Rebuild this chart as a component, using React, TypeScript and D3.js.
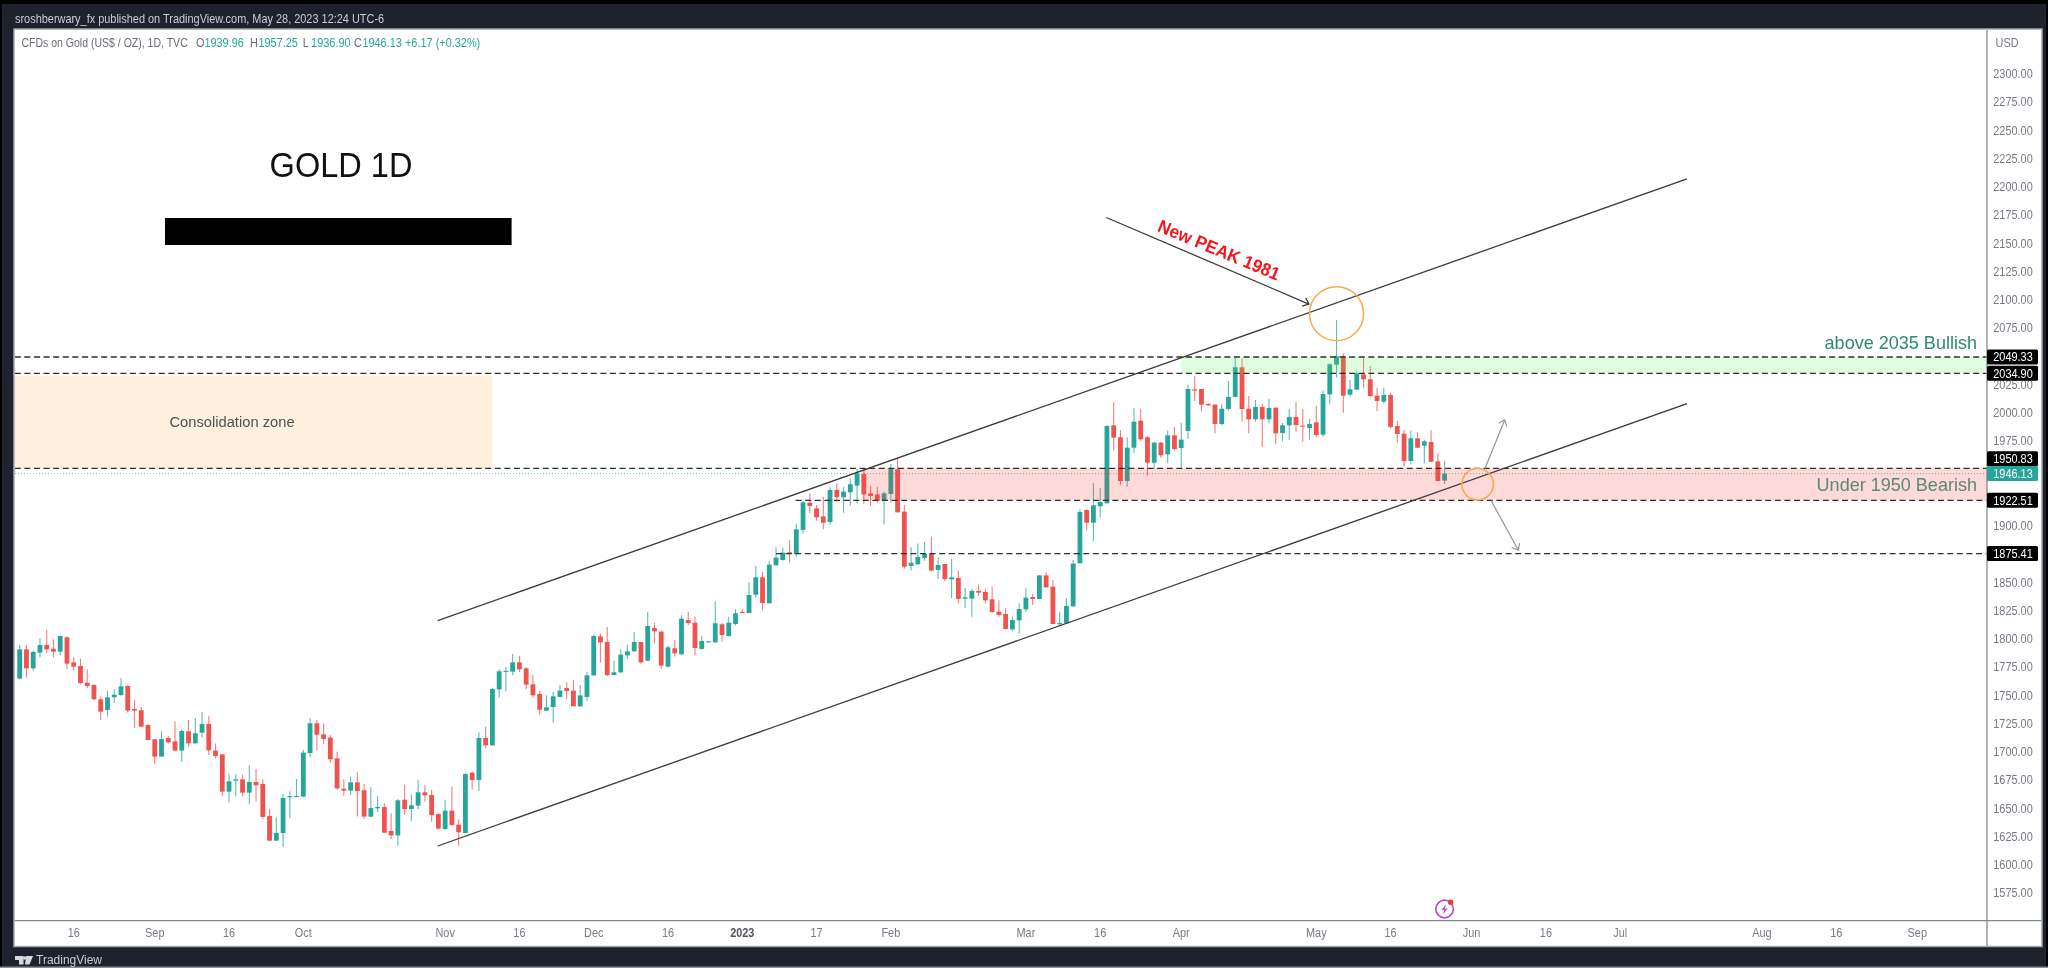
import React, { useRef, useEffect } from 'react';
import * as d3 from 'd3';

const opens = [
  1764.7,1790.6,1773.8,1787.7,1794.5,1791.2,1788.6,1801.3,1779.1,1775.9,
  1761.1,1759.1,1746.4,1737,1748.2,1750.2,1758.2,1737.8,1736.7,1723.7,
  1711,1695.7,1712.2,1709.2,1701,1718.1,1707.4,1716.9,1724.6,1701,
  1697.7,1664.7,1674.4,1675.6,1663.8,1673.2,1671.5,1643.1,1621.3,1628.1,
  1659.7,1660.3,1660.3,1698.9,1725.2,1715.4,1712.5,1694.2,1667.3,1665.6,
  1672.9,1665.9,1642.6,1649.9,1651.1,1629.9,1626,1657.6,1649.3,1652.3,
  1664.1,1661.7,1644.9,1631.6,1647.9,1635.5,1628.1,1681.5,1675,1712.2,
  1705.7,1755.2,1770.6,1770.9,1779.1,1773.8,1759.7,1751.1,1736.4,1739.6,
  1748.5,1756.4,1754.1,1740.2,1748.5,1767.6,1802.1,1797.1,1767.9,1770.3,
  1785.3,1788.9,1797.1,1780.6,1809.5,1806.3,1775.3,1791.5,1786.2,1816.6,
  1814.2,1790.9,1796.8,1796.8,1812.8,1802.4,1813.1,1823.7,1822.8,1839,
  1854.4,1831.4,1865,1869.7,1876.5,1875,1896.3,1920.4,1915.4,1908.3,
  1903.3,1931.7,1925.2,1929.6,1935.5,1945.8,1928.7,1927.8,1922.5,1928.1,
  1949.9,1912.5,1864.4,1865.9,1871.5,1875.3,1860.9,1866.2,1852.6,1853.8,
  1835.5,1835.5,1842.3,1841.4,1834.9,1824,1821.9,1808.3,1816.3,1826,
  1837,1835.2,1856.1,1846.1,1812.8,1813.7,1828.7,1866.8,1913.9,1902.7,
  1917.2,1919.9,1988.9,1978.3,1939.6,1969.1,1993,1978.3,1955.8,1973.5,
  1963.2,1980,1968.8,1983.9,2020.7,2021,2007.8,2007.2,1990,2003.3,
  2014,2040.2,2003.6,1994.2,2005.1,1994.2,2004.5,1982.1,1988.9,1996.3,
  1988.6,1986.5,1991.5,1980.6,2016.3,2042.6,2049.9,2016,2020.5,2034,
  2029.6,2015.1,2009.8,2015.7,1988.3,1981.5,1957.3,1977.4,1970.9,1974.1,
  1957,1939.96,
];
const highs = [
  1794.5,1794.5,1789.5,1800.4,1807.7,1799.5,1803,1801.9,1783.6,1782.4,
  1773,1759.7,1748.8,1754,1755.2,1765,1758.8,1745.8,1739.6,1724.6,
  1711.6,1718.1,1714,1726.9,1719.8,1728.1,1729.9,1735.2,1731.9,1707.4,
  1698,1680.6,1680,1679.7,1688,1684.7,1675.6,1649.3,1642,1662.6,
  1665,1675.9,1701.6,1729.6,1728.1,1725.2,1714.8,1700.1,1675.6,1677.9,
  1681.8,1671.5,1668.5,1660.8,1654.4,1645.5,1657.9,1670.6,1662,1674.7,
  1670.3,1666.2,1645.5,1657,1669.1,1640.2,1681.5,1682.4,1717.2,1722.2,
  1756.7,1773,1775,1786.5,1785,1774.7,1767.9,1753.5,1749.9,1753.2,
  1758.8,1761.4,1763.5,1759.1,1770.3,1803.6,1804.5,1810.4,1780.6,1790.6,
  1794.8,1806,1797.1,1824,1814.2,1807.2,1793.9,1798.6,1820.7,1824,
  1819.8,1802.7,1798,1833.1,1813.9,1819.5,1826,1826.3,1849.9,1864.7,
  1859.1,1868.8,1880.9,1880.6,1887.1,1901.6,1921.9,1928.7,1918.4,1925.7,
  1934,1937.6,1934.6,1942,1950.2,1949.9,1935.2,1934.6,1930.2,1954.7,
  1960.6,1918.4,1880.9,1884.4,1885.9,1890.4,1872.1,1866.2,1870.6,1860.3,
  1844.9,1843.7,1847.9,1844,1846.1,1834,1827,1819.5,1831.4,1844.6,
  1839.6,1856.4,1858.8,1852,1824,1836.1,1869.7,1914.5,1914.5,1937.6,
  1933.4,1988.9,2009.2,1984.8,1978.3,2003.9,2003,1979.7,1974.4,1974.1,
  1984.2,1987.1,1991.2,2024.9,2032.2,2021.3,2008.3,2007.2,2007.8,2028.1,
  2049,2047.9,2014.8,2011.3,2007.5,2012.5,2004.8,1991,2003.6,2009.5,
  2003.6,1994.5,2006,2019.6,2043.7,2082.1,2052.6,2029,2036.4,2048.2,
  2041.4,2022.2,2022.2,2017.8,1993,1984.8,1984.2,1982.7,1975.9,1984.5,
  1964.1,1957.25,
];
const lows = [
  1764.1,1765.6,1771.8,1783.6,1787.7,1783.6,1785.6,1773.2,1771.8,1760,
  1756.1,1745.8,1728.1,1731.1,1742.9,1749.6,1734.6,1721,1721.6,1709.8,
  1689.2,1695.4,1707.4,1700.4,1691.2,1704.5,1707.2,1712.8,1697.1,1694.2,
  1660.3,1654.9,1660.3,1660.3,1653.8,1656.1,1640.5,1621.3,1621.3,1615.4,
  1641.4,1659.7,1659.7,1695.1,1701,1706.9,1690.3,1666.2,1661.1,1662,
  1642.6,1640.8,1642,1646.7,1627.8,1622.8,1616.9,1644.3,1638.4,1649.3,
  1655.8,1638.1,1631.3,1631,1634.3,1616.9,1627.8,1666.7,1665.3,1703,
  1705.1,1747.9,1753.5,1767.6,1770.6,1755.2,1747.9,1732.8,1736.1,1725.7,
  1748.2,1746.4,1740.2,1739.9,1745.2,1767.3,1778.8,1766.5,1767.6,1769.4,
  1782.1,1788.6,1778,1780.3,1795.9,1773.5,1774.7,1784.2,1785.6,1812.2,
  1785.3,1790.6,1796.5,1796.5,1797.4,1802.1,1811.9,1822.5,1822.5,1836.7,
  1825.2,1831.1,1864.7,1869.1,1867.3,1872.6,1893,1911,1904.5,1896.8,
  1901,1920.7,1911.6,1917.8,1919.9,1919.3,1917.5,1920.4,1901,1920.4,
  1911.6,1862,1860.3,1865.3,1869.1,1859.7,1852.9,1850.8,1836.1,1831.1,
  1827.5,1819.5,1837.8,1831.1,1823.1,1819.5,1808.3,1807.2,1804.8,1824,
  1829.9,1834.9,1845.2,1812.8,1811,1813.1,1828.4,1866.5,1895.7,1886.5,
  1907.5,1919.6,1966.5,1936.1,1934.6,1964.7,1975.3,1944.3,1950.2,1960,
  1955.5,1966.5,1950.5,1976.8,2010.4,2001.6,2006,1981.8,1989.2,2001.9,
  2013.7,1992.1,1981.8,1992.1,1969.7,1990.6,1972,1974.7,1975.9,1983.3,
  1974.4,1976.2,1978.3,1978.8,2007.8,2031.1,2000.1,2014.3,2020.2,2021.6,
  2013.7,2001.6,2008.3,1986.2,1973.5,1952.3,1954.4,1968.5,1955.2,1956.4,
  1939.3,1936.9,
];
const closes = [
  1790.6,1773.8,1788.3,1794.5,1790.6,1788.6,1802.4,1778,1775.3,1760.8,
  1758.2,1746.4,1735.5,1748.2,1750.5,1757.9,1736.4,1736.4,1722.2,1710.4,
  1695.7,1711.3,1708.3,1701,1718.4,1707.4,1716.3,1724.6,1701.3,1696.2,
  1664.7,1673.8,1675.6,1663.8,1673.2,1670.3,1642.3,1621.3,1628.1,1659.1,
  1660.8,1660.8,1699.2,1725.2,1715.1,1711.3,1693.3,1667.6,1665.6,1672.9,
  1665.3,1642.6,1650.2,1651.1,1628.4,1626,1657,1649.3,1652.6,1664.1,
  1661.4,1644,1632,1647.9,1635.2,1628.7,1680.3,1675,1712.2,1705.7,
  1755.5,1771.2,1771.5,1779.1,1772.9,1759.4,1749.9,1737.2,1739.3,1749,
  1754.1,1753.8,1740.2,1749.9,1767.6,1802.4,1796.8,1767.9,1770.3,1785.9,
  1788.9,1797.1,1779.1,1811.3,1806.6,1776.2,1792.4,1787.1,1817.8,1813.9,
  1791.8,1798,1797.7,1813.7,1803.3,1814.2,1822.5,1822.8,1838.7,1854.4,
  1831.6,1865.6,1871.8,1876.2,1875,1896.8,1920.7,1917.5,1907.5,1902.7,
  1931.7,1925.2,1930.2,1936.7,1946.4,1927.8,1926.3,1922.2,1928.7,1950.2,
  1911.9,1863.8,1867.3,1872.4,1875,1860.3,1865.3,1852.9,1854.4,1835.2,
  1836.7,1842.3,1840.8,1834,1823.7,1821,1808.6,1816.6,1826.3,1836.4,
  1835.2,1856.1,1845.5,1813.1,1813.9,1829,1866.5,1912.2,1902.7,1918.1,
  1921,1988.3,1978,1939.6,1969.1,1992.1,1976.5,1955.8,1973.5,1962.3,
  1980,1967.9,1976.2,2021,2019.6,2007.2,2006.6,1990,2003.6,2014,
  2040.2,2003.3,1994.2,2005.1,1994.2,2004.2,1981.8,1988.9,1996.3,1989.2,
  1987.7,1990,1980.3,2016.6,2042.9,2049.9,2015.1,2020.7,2034.9,2029.6,
  2014.8,2010.4,2015.7,1987.4,1981.2,1957.3,1977.4,1969.1,1974.7,1956.7,
  1939.6,1946.13,
];

const priceTicks = d3.range(1575, 2301, 25);
const timeTicks = [
  { bar: 8, label: '16' }, { bar: 20, label: 'Sep' }, { bar: 31, label: '16' }, { bar: 42, label: 'Oct' },
  { bar: 63, label: 'Nov' }, { bar: 74, label: '16' }, { bar: 85, label: 'Dec' }, { bar: 96, label: '16' },
  { bar: 107, label: '2023' }, { bar: 118, label: '17' }, { bar: 129, label: 'Feb' }, { bar: 149, label: 'Mar' },
  { bar: 160, label: '16' }, { bar: 172, label: 'Apr' }, { bar: 192, label: 'May' }, { bar: 203, label: '16' },
  { bar: 215, label: 'Jun' }, { bar: 226, label: '16' }, { bar: 237, label: 'Jul' }, { bar: 258, label: 'Aug' },
  { bar: 269, label: '16' }, { bar: 281, label: 'Sep' },
];

// drawings on the chart, as [bar index, price]
const levels = [
  { price: 2049.33, from: -5 }, { price: 2034.9, from: -5 }, { price: 1950.83, from: -5 },
  { price: 1922.51, from: 114.9 }, { price: 1875.41, from: 112 },
];
// shift: the tag is pushed up when it would sit on the last price tag
const priceTags = [
  { price: 2049.33, shift: 0 }, { price: 2034.9, shift: 0 }, { price: 1950.83, shift: -9.5 },
  { price: 1922.51, shift: 0 }, { price: 1875.41, shift: 0 },
];
const lastPrice = 1946.13;
const trendLines = [
  [[61.9, 1816], [246.9, 2206.9]],
  [[61.9, 1616.6], [246.9, 2008.1]],
];
const peakArrow = [[160.9, 2172.8], [190.9, 2096.2]];
const grayArrows = [
  [[217, 1950.8], [219.9, 1993.6]],
  [[217.9, 1922.2], [221.9, 1878.5]],
];
const circles = [
  { bar: 195, price: 2087.7, bars: 4 },
  { bar: 215.9, price: 1936.7, bars: 2.33 },
];

const W = 2048;
const H = 968;
const pane = { left: 15, right: 1987, top: 30, bottom: 920.7 };
const GREEN = '#26a69a';
const RED = '#ef5350';
const FONT = '"Liberation Sans", Arial, sans-serif';

const App = () => {
  const svgRef = useRef(null);

  useEffect(() => {
    const svg = d3.select(svgRef.current);
    svg.selectAll('*').remove();

    const x = d3.scaleLinear().domain([0, 281]).range([19.7, 19.7 + 6.753 * 281]);
    const y = d3.scaleLinear().domain([1575, 2300]).range([893, 73.75]);

    // 글자는 가로로 눌린 모양
    const label = (g, txt, px, py, size, fill, anchor = 'start', sx = 0.84, rot = 0, weight = 'normal') =>
      g.append('text')
        .attr('transform', `translate(${px},${py}) rotate(${rot}) scale(${sx},1)`)
        .attr('text-anchor', anchor)
        .attr('dominant-baseline', 'central')
        .attr('font-family', FONT)
        .attr('font-size', size)
        .attr('font-weight', weight)
        .attr('fill', fill)
        .text(txt);

    // window chrome
    svg.append('rect').attr('width', W).attr('height', H).attr('fill', '#1e222d');
    svg.append('rect').attr('width', W).attr('height', 4).attr('fill', '#000');
    svg.append('rect').attr('width', 2).attr('height', H).attr('fill', '#000');
    svg.append('rect').attr('x', 2046).attr('width', 2).attr('height', H).attr('fill', '#000');
    svg.append('rect').attr('y', 966.5).attr('width', W).attr('height', 1.5).attr('fill', '#8a8e97');
    svg.append('rect').attr('x', 14).attr('y', 29).attr('width', 2028).attr('height', 917.5)
      .attr('fill', '#fff').attr('stroke', '#a4a7ae').attr('stroke-width', 1.5);

    svg.append('clipPath').attr('id', 'pane').append('rect')
      .attr('x', pane.left).attr('y', pane.top)
      .attr('width', pane.right - pane.left).attr('height', pane.bottom - pane.top);
    const chart = svg.append('g').attr('clip-path', 'url(#pane)');

    // consolidation box
    chart.append('rect')
      .attr('x', x(-5)).attr('width', x(70) - x(-5))
      .attr('y', y(2032.5)).attr('height', y(1950.3) - y(2032.5))
      .attr('fill', '#fff0dd');
    label(chart, 'Consolidation zone', 232, 421, 15.5, '#4b5350', 'middle', 0.95);

    // last price line
    chart.append('line')
      .attr('x1', pane.left).attr('x2', pane.right)
      .attr('y1', y(lastPrice)).attr('y2', y(lastPrice))
      .attr('stroke', GREEN).attr('stroke-opacity', 0.7).attr('stroke-dasharray', '1,2');

    // candles
    const bars = d3.range(opens.length).map(i => ({
      i, o: opens[i], h: highs[i], l: lows[i], c: closes[i],
    }));
    const color = d => (d.c >= d.o ? GREEN : RED);
    chart.selectAll('.wick').data(bars).enter().append('line')
      .attr('class', 'wick')
      .attr('x1', d => x(d.i)).attr('x2', d => x(d.i))
      .attr('y1', d => y(d.h)).attr('y2', d => y(d.l))
      .attr('stroke', color).attr('stroke-width', 1.1).attr('stroke-opacity', 0.75);
    chart.selectAll('.body').data(bars).enter().append('rect')
      .attr('class', 'body')
      .attr('x', d => x(d.i) - 2.4).attr('width', 4.8)
      .attr('y', d => y(Math.max(d.o, d.c)))
      .attr('height', d => Math.max(1, Math.abs(y(d.o) - y(d.c))))
      .attr('fill', color);

    // zones on top of the candles
    chart.append('rect')
      .attr('x', x(124.7)).attr('width', pane.right - x(124.7))
      .attr('y', y(1950.83)).attr('height', y(1922.51) - y(1950.83))
      .attr('fill', '#f44336').attr('fill-opacity', 0.2);
    chart.append('rect')
      .attr('x', x(172)).attr('width', pane.right - x(172))
      .attr('y', y(2049.33)).attr('height', y(2034.9) - y(2049.33))
      .attr('fill', '#4cf050').attr('fill-opacity', 0.18);

    // dashed levels
    chart.selectAll('.level').data(levels).enter().append('line')
      .attr('class', 'level')
      .attr('x1', d => x(d.from)).attr('x2', pane.right)
      .attr('y1', d => y(d.price)).attr('y2', d => y(d.price))
      .attr('stroke', '#2f2f2f').attr('stroke-width', 1.3).attr('stroke-dasharray', '6,3.6');

    const line = d3.line().x(d => x(d[0])).y(d => y(d[1]));
    chart.selectAll('.trend').data(trendLines).enter().append('path')
      .attr('class', 'trend')
      .attr('d', line).attr('fill', 'none').attr('stroke', '#3a3a3a').attr('stroke-width', 1.3);

    // open arrow heads
    const arrow = (pts, stroke) => {
      chart.append('path').attr('d', line(pts)).attr('fill', 'none')
        .attr('stroke', stroke).attr('stroke-width', 1.3);
      const [x0, y0] = [x(pts[0][0]), y(pts[0][1])];
      const [x1, y1] = [x(pts[1][0]), y(pts[1][1])];
      const a = Math.atan2(y1 - y0, x1 - x0);
      const head = [a - 0.7, a + 0.7].map(t => [x1 - 7 * Math.cos(t), y1 - 7 * Math.sin(t)]);
      chart.append('path')
        .attr('d', `M${head[0]}L${x1},${y1}L${head[1]}`)
        .attr('fill', 'none').attr('stroke', stroke).attr('stroke-width', 1.3);
    };
    arrow(peakArrow, '#3a3a3a');
    grayArrows.forEach(a => arrow(a, '#9a9a9a'));

    chart.selectAll('.ring').data(circles).enter().append('circle')
      .attr('class', 'ring')
      .attr('cx', d => x(d.bar)).attr('cy', d => y(d.price))
      .attr('r', d => x(d.bars) - x(0))
      .attr('fill', 'none').attr('stroke', '#f9a94c').attr('stroke-width', 1.5);

    // chart notes
    label(chart, 'New PEAK 1981', 1219, 250, 18, '#f5141c', 'middle', 0.95, 22.5, 'bold');
    label(chart, 'above 2035 Bullish', 1977, 342.7, 19, '#2e8b72', 'end', 0.95);
    label(chart, 'Under 1950 Bearish', 1977, 484, 19, '#5a8a72', 'end', 0.95);
    label(chart, 'GOLD 1D', 341, 165, 35, '#111', 'middle', 0.93);
    chart.append('rect').attr('x', 165).attr('y', 218).attr('width', 346.6).attr('height', 27).attr('fill', '#000');

    // lightning mark after the last bar
    const bolt = chart.append('g').attr('transform', `translate(${x(211)},909)`);
    bolt.append('circle').attr('r', 8.8).attr('fill', 'none').attr('stroke', '#b44fd0').attr('stroke-width', 1.7);
    bolt.append('path').attr('d', 'M1.5,-5 L-3,1 L-0.3,1 L-1.5,5.5 L3,-0.6 L0.3,-0.6 Z').attr('fill', '#b44fd0');
    bolt.append('circle').attr('cx', 6).attr('cy', -6.7).attr('r', 2.7).attr('fill', '#f23645');

    // price axis
    svg.append('line').attr('x1', pane.right).attr('x2', pane.right).attr('y1', pane.top).attr('y2', 946)
      .attr('stroke', '#85888f').attr('stroke-width', 1.3);
    const axisR = svg.append('g');
    label(axisR, 'USD', 1995.5, 42.3, 13, '#787b86');
    priceTicks.forEach(p => label(axisR, p.toFixed(2), 2013, y(p), 13, '#787b86', 'middle'));

    // price tags
    const tags = svg.append('g');
    priceTags.forEach(t => {
      const ty = y(t.price) + t.shift;
      tags.append('rect').attr('x', pane.right).attr('y', ty - 7.5).attr('width', 51).attr('height', 15)
        .attr('rx', 1.5).attr('fill', '#000');
      label(tags, t.price.toFixed(2), 2013, ty, 13, '#fff', 'middle');
    });
    tags.append('rect').attr('x', pane.right).attr('y', y(lastPrice) - 7.5).attr('width', 51).attr('height', 15)
      .attr('rx', 1.5).attr('fill', GREEN);
    label(tags, lastPrice.toFixed(2), 2013, y(lastPrice), 13, '#fff', 'middle');

    // time axis
    svg.append('line').attr('x1', pane.left).attr('x2', 2041).attr('y1', pane.bottom).attr('y2', pane.bottom)
      .attr('stroke', '#85888f').attr('stroke-width', 1.3);
    const axisB = svg.append('g');
    timeTicks.forEach(t => {
      const year = t.label === '2023';
      label(axisB, t.label, x(t.bar), 933, 13, year ? '#50535e' : '#787b86', 'middle', 0.84, 0, year ? 'bold' : 'normal');
    });

    // legend row
    const legend = svg.append('g');
    label(legend, 'CFDs on Gold (US$ / OZ), 1D, TVC', 21.4, 43, 13, '#6a6d78', 'start', 0.81);
    [['O', 196, '1939.96'], ['H', 250, '1957.25'], ['L', 302.7, '1936.90'], ['C', 354, '1946.13']].forEach(([k, px, v]) => {
      label(legend, k, px, 43, 13, '#6a6d78');
      label(legend, v, px + 8.4, 43, 13, GREEN);
    });
    label(legend, '+6.17 (+0.32%)', 405, 43, 13, GREEN);

    // top and bottom bars
    label(svg, 'sroshberwary_fx published on TradingView.com, May 28, 2023 12:24 UTC-6', 15, 18, 12.5, '#c9ccd3', 'start', 0.875);
    svg.append('path').attr('d', 'M15,956 H23.5 V964.5 H19 V960 H15 Z M26,956 H33 L29.5,964.5 H25 Z').attr('fill', '#d8dae0');
    svg.append('circle').attr('cx', 24.6).attr('cy', 958).attr('r', 1.7).attr('fill', '#d8dae0');
    label(svg, 'TradingView', 36, 959.5, 12, '#c9ccd3', 'start', 1);
  }, []);

  return (
    <svg
      ref={svgRef}
      width={W}
      height={H}
      style={{ position: 'absolute', left: 0, top: 0, display: 'block', filter: 'blur(0.45px)' }}
    />
  );
};

export default App;
